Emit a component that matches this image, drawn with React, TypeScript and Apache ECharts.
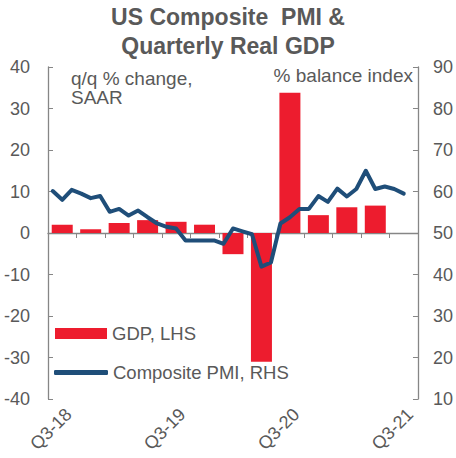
import React, { useEffect, useRef } from "react";
import * as echarts from "echarts";

const quarters = ["Q3-18", "Q4-18", "Q1-19", "Q2-19", "Q3-19", "Q4-19", "Q1-20", "Q2-20", "Q3-20", "Q4-20", "Q1-21", "Q2-21", "Q3-21"];
const gdp = [2.0, 0.9, 2.4, 3.1, 2.7, 2.0, -5.1, -31.0, 33.8, 4.3, 6.2, 6.6, null];

const months = [
  "Jul-18", "Aug-18", "Sep-18", "Oct-18", "Nov-18", "Dec-18",
  "Jan-19", "Feb-19", "Mar-19", "Apr-19", "May-19", "Jun-19",
  "Jul-19", "Aug-19", "Sep-19", "Oct-19", "Nov-19", "Dec-19",
  "Jan-20", "Feb-20", "Mar-20", "Apr-20", "May-20", "Jun-20",
  "Jul-20", "Aug-20", "Sep-20", "Oct-20", "Nov-20", "Dec-20",
  "Jan-21", "Feb-21", "Mar-21", "Apr-21", "May-21", "Jun-21",
  "Jul-21", "Aug-21", "Sep-21",
];
const pmi = [
  60.1, 58.0, 60.4, 59.5, 58.4, 58.9,
  55.1, 55.8, 54.2, 55.4, 53.8, 52.3,
  51.5, 51.1, 48.2, 48.2, 48.2, 48.2,
  47.4, 51.1, 50.4, 49.7, 41.9, 42.9,
  52.3, 53.8, 55.8, 55.8, 58.9, 57.5,
  60.7, 58.8, 60.6, 65.0, 60.6, 61.2,
  60.6, 59.5,
];

const quarterLabelsShown = ["Q3-18", "Q3-19", "Q3-20", "Q3-21"];

const FONT = "'Liberation Sans', Arial, sans-serif";
const GREY_TEXT = "#595959";
const AXIS = "#868686";

export default function App() {
  const ref = useRef<HTMLDivElement>(null);
  useEffect(() => {
    document.body.style.margin = "0";
    if (!ref.current) return;
    const chart = echarts.init(ref.current, undefined, { renderer: "svg" });
    const axisLabel = { fontSize: 18, color: GREY_TEXT, fontFamily: FONT };
    chart.setOption({
      animation: false,
      textStyle: { fontFamily: FONT },
      title: {
        text: "US Composite  PMI &\nQuarterly Real GDP",
        left: "center",
        top: 0,
        padding: [2, 5, 2, 5],
        textStyle: { fontSize: 23, fontWeight: "bold", color: GREY_TEXT, lineHeight: 29, fontFamily: FONT },
      },
      grid: { left: 48, right: 36, top: 67, bottom: 59, containLabel: false },
      legend: [
        {
          data: ["GDP, LHS"],
          left: 55,
          top: 324,
          padding: 0,
          icon: "rect",
          itemWidth: 52,
          itemHeight: 11,
          textStyle: { fontSize: 18.5, color: GREY_TEXT, fontFamily: FONT },
          selectedMode: false,
        },
        {
          data: [{ name: "Composite PMI, RHS", icon: "roundRect" }],
          left: 54,
          top: 363,
          padding: 0,
          itemWidth: 54,
          itemHeight: 5,
          textStyle: { fontSize: 18.5, color: GREY_TEXT, fontFamily: FONT },
          selectedMode: false,
        },
      ],
      graphic: [
        {
          type: "text",
          left: 71,
          top: 69,
          style: { text: "q/q % change,\nSAAR", fontSize: 19, lineHeight: 19, fill: GREY_TEXT, fontFamily: FONT },
        },
        {
          type: "text",
          right: 43,
          top: 66,
          style: { text: "% balance index", fontSize: 19, fill: GREY_TEXT, fontFamily: FONT },
        },
      ],
      xAxis: [
        {
          type: "category",
          data: quarters,
          position: "bottom",
          axisLine: { show: true, onZero: true, lineStyle: { color: AXIS, width: 1.3 } },
          axisTick: { show: true, inside: false, length: 5, interval: 0, lineStyle: { color: AXIS } },
          axisLabel: { show: false },
          splitLine: { show: false },
        },
        {
          type: "category",
          data: quarters,
          position: "bottom",
          axisLine: { show: false, onZero: false },
          axisTick: { show: false },
          axisLabel: {
            ...axisLabel,
            fontSize: 18,
            rotate: 45,
            margin: 6,
            align: "right",
            verticalAlign: "top",
            interval: (_i: number, v: string) => quarterLabelsShown.indexOf(v) >= 0,
          },
          splitLine: { show: false },
        },
        {
          type: "category",
          data: months,
          position: "top",
          show: false,
          boundaryGap: true,
        },
      ],
      yAxis: [
        {
          type: "value",
          position: "left",
          min: -40,
          max: 40,
          interval: 10,
          axisLine: { show: true, lineStyle: { color: AXIS, width: 1.3 } },
          axisTick: { show: true, inside: true, length: 5, lineStyle: { color: AXIS } },
          axisLabel: { ...axisLabel, margin: 18 },
          splitLine: { show: false },
        },
        {
          type: "value",
          position: "right",
          min: 10,
          max: 90,
          interval: 10,
          axisLine: { show: true, lineStyle: { color: AXIS, width: 1.3 } },
          axisTick: { show: true, inside: true, length: 5, lineStyle: { color: AXIS } },
          axisLabel: { ...axisLabel, margin: 15 },
          splitLine: { show: false },
        },
      ],
      series: [
        {
          name: "GDP, LHS",
          type: "bar",
          xAxisIndex: 0,
          yAxisIndex: 0,
          data: gdp,
          barWidth: 21,
          color: "#ED1C2E",
          itemStyle: { color: "#ED1C2E" },
        },
        {
          name: "Composite PMI, RHS",
          type: "line",
          xAxisIndex: 2,
          yAxisIndex: 1,
          data: pmi,
          symbol: "none",
          color: "#1F4E79",
          lineStyle: { width: 4, color: "#1F4E79", join: "round", cap: "round" },
          itemStyle: { color: "#1F4E79" },
          z: 5,
        },
      ],
    });
    return () => chart.dispose();
  }, []);
  return <div ref={ref} style={{ width: 456, height: 458 }} />;
}
